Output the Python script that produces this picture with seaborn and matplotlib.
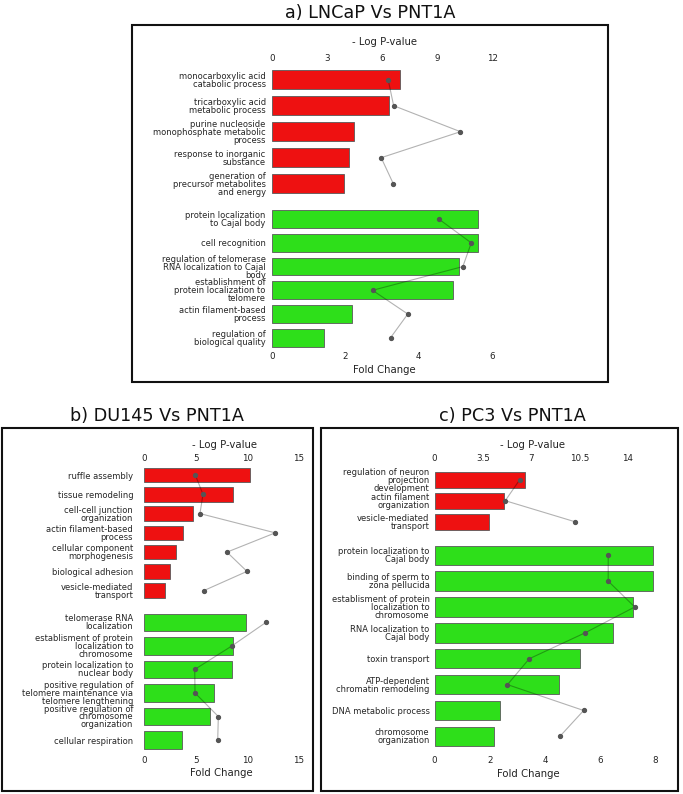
import numpy as np
import matplotlib
matplotlib.use("Agg")
import matplotlib.pyplot as plt
from matplotlib.patches import Rectangle
import seaborn as sns

# ---------------- data ----------------
a_up_terms = ["monocarboxylic acid\ncatabolic process",
              "tricarboxylic acid\nmetabolic process",
              "purine nucleoside\nmonophosphate metabolic\nprocess",
              "response to inorganic\nsubstance",
              "generation of\nprecursor metabolites\nand energy"]
a_up_fc = [3.48, 3.19, 2.23, 2.11, 1.95]
a_up_logp = [6.33, 6.63, 10.27, 5.95, 6.61]

a_dn_terms = ["protein localization\nto Cajal body",
              "cell recognition",
              "regulation of telomerase\nRNA localization to Cajal\nbody",
              "establishment of\nprotein localization to\ntelomere",
              "actin filament-based\nprocess",
              "regulation of\nbiological quality"]
a_dn_fc = [5.61, 5.61, 5.10, 4.92, 2.18, 1.42]
a_dn_logp = [9.1, 10.86, 10.4, 5.48, 7.4, 6.46]

b_up_terms = ["ruffle assembly", "tissue remodeling",
              "cell-cell junction\norganization",
              "actin filament-based\nprocess",
              "cellular component\nmorphogenesis",
              "biological adhesion",
              "vesicle-mediated\ntransport"]
b_up_fc = [10.3, 8.57, 4.69, 3.75, 3.07, 2.52, 1.97]
b_up_logp = [4.95, 5.69, 5.4, 12.7, 8.02, 9.96, 5.76]

b_dn_terms = ["telomerase RNA\nlocalization",
              "establisment of protein\nlocalization to\nchromosome",
              "protein localization to\nnuclear body",
              "positive regulation of\ntelomere maintenance via\ntelomere lengthening",
              "positive regulation of\nchromosome\norganization",
              "cellular respiration"]
b_dn_fc = [9.9, 8.63, 8.5, 6.79, 6.37, 3.62]
b_dn_logp = [11.8, 8.5, 4.89, 4.92, 7.18, 7.12]

c_up_terms = ["regulation of neuron\nprojection\ndevelopment",
              "actin filament\norganization",
              "vesicle-mediated\ntransport"]
c_up_fc = [3.27, 2.51, 1.98]
c_up_logp = [6.17, 5.12, 10.16]

c_dn_terms = ["protein localization to\nCajal body",
              "binding of sperm to\nzona pellucida",
              "establisment of protein\nlocalization to\nchromosome",
              "RNA localization to\nCajal body",
              "toxin transport",
              "ATP-dependent\nchromatin remodeling",
              "DNA metabolic process",
              "chromosome\norganization"]
c_dn_fc = [7.93, 7.93, 7.2, 6.47, 5.27, 4.51, 2.37, 2.17]
c_dn_logp = [12.58, 12.58, 14.5, 10.9, 6.86, 5.28, 10.8, 9.08]

titles = ["a) LNCaP Vs PNT1A", "b) DU145 Vs PNT1A", "c) PC3 Vs PNT1A"]
a_logp_ticks = [0, 3, 6, 9, 12]
a_fc_ticks = [0, 2, 4, 6]
b_logp_ticks = [0, 5, 10, 15]
b_fc_ticks = [0, 5, 10, 15]
c_logp_ticks = [0, 3.5, 7, 10.5, 14]
c_logp_labels = ["0", "3.5", "7", "10.5", "14"]
c_fc_ticks = [0, 2, 4, 6, 8]

# ---------------- style ----------------
sns.set_style("white")
plt.rcParams['font.family'] = ['DejaVu Sans']

W, H = 683, 794
fig = plt.figure(figsize=(W / 100, H / 100), dpi=100)

RED = "#EE1111"
GREEN = "#2EDF1A"
EDGE = "0.35"
TICK_FS = 6.3
CAT_FS = 6.0
LAB_FS = 7.3


def add_ax(x0, x1, yt, yb):
    return fig.add_axes([x0 / W, 1 - yb / H, (x1 - x0) / W, (yb - yt) / H])


def pad_pt(dist_px, fs_pt):
    return max(0.0, (dist_px - fs_pt * 100 / 72 / 2) * 72 / 100)


def panel_part(x0, x1, yt, yb, terms, fc, logp, color, fcmax, ratio,
               cat_pad, top=None, bottom=None):
    ax = add_ax(x0, x1, yt, yb)
    sns.barplot(x=fc, y=terms, orient="h", color=color, saturation=1,
                width=0.75, edgecolor=EDGE, linewidth=0.6, ax=ax)
    ax.set_xlim(0, fcmax)
    ax2 = ax.twiny()
    ax2.set_xlim(0, fcmax * ratio)
    idx = np.arange(len(terms))
    ax2.plot(logp, idx, color="k", alpha=0.3, lw=0.8, zorder=3)
    ax2.plot(logp, idx, "o", color="#555555", ms=2.8, zorder=4)
    ax.set_ylim(len(terms) - 0.5, -0.5)
    for a in (ax, ax2):
        for s in a.spines.values():
            s.set_visible(False)
    ax.set_ylabel("")
    ax.tick_params(axis="y", length=0, pad=cat_pad, labelsize=CAT_FS)
    for lbl in ax.get_yticklabels():
        lbl.set_linespacing(0.85)
    h = yb - yt
    w = x1 - x0
    if top is not None:
        ticks, tlabels, dist, lab_d, lab_cx = top
        ax2.set_xticks(ticks)
        ax2.set_xticklabels(tlabels)
        ax2.tick_params(axis="x", length=0, labelsize=TICK_FS,
                        pad=pad_pt(dist, TICK_FS), colors="#222222")
        ax2.set_xlabel("- Log P-value", fontsize=LAB_FS, color="#222222")
        ax2.xaxis.set_label_coords((lab_cx - x0) / w, 1 + lab_d / h)
        ax2.xaxis.label.set_va("center")
    else:
        ax2.set_xticks([])
    if bottom is not None:
        ticks, dist, lab_d, lab_cx = bottom
        ax.set_xticks(ticks)
        ax.set_xticklabels([str(t) for t in ticks])
        ax.tick_params(axis="x", length=0, labelsize=TICK_FS,
                       pad=pad_pt(dist, TICK_FS), colors="#222222")
        ax.set_xlabel("Fold Change", fontsize=LAB_FS, color="#222222")
        ax.xaxis.set_label_coords((lab_cx - x0) / w, -lab_d / h)
        ax.xaxis.label.set_va("center")
    else:
        ax.set_xticks([])
        ax.set_xlabel("")
    return ax, ax2


# ---- panel a ----
ax0 = 272.0
a_unit = 36.7
a_max = 6.15
ax1 = ax0 + a_max * a_unit
panel_part(ax0, ax1, 66.7, 196.7, a_up_terms, a_up_fc, a_up_logp, RED,
           a_max, 2.0, 4.5,
           top=(a_logp_ticks, [str(t) for t in a_logp_ticks], 7.7, 24.7, 385))
panel_part(ax0, ax1, 207.3, 349.6, a_dn_terms, a_dn_fc, a_dn_logp, GREEN,
           a_max, 2.0, 4.5,
           bottom=(a_fc_ticks, 7.0, 20.4, 384))

# ---- panel b ----
bx0 = 144.3
b_unit = 10.31
b_max = 15.3
bx1 = bx0 + b_max * b_unit
panel_part(bx0, bx1, 465.4, 600.3, b_up_terms, b_up_fc, b_up_logp, RED,
           b_max, 1.0, 8.0,
           top=(b_logp_ticks, [str(t) for t in b_logp_ticks], 6.7, 20.4, 224))
panel_part(bx0, bx1, 610.6, 751.8, b_dn_terms, b_dn_fc, b_dn_logp, GREEN,
           b_max, 1.0, 8.0,
           bottom=(b_fc_ticks, 9.0, 21.5, 221.3))

# ---- panel c ----
cx0 = 434.6
c_unit = 27.6
c_max = 8.4
cx1 = cx0 + c_max * c_unit
panel_part(cx0, cx1, 469.2, 532.2, c_up_terms, c_up_fc, c_up_logp, RED,
           c_max, 2.0, 3.6,
           top=(c_logp_ticks, c_logp_labels, 10.5, 24.0, 532))
panel_part(cx0, cx1, 542.3, 749.3, c_dn_terms, c_dn_fc, c_dn_logp, GREEN,
           c_max, 2.0, 3.6,
           bottom=(c_fc_ticks, 10.7, 24.4, 528.3))

# ---- frames and titles ----
boxes = [(132, 608, 25, 382), (2, 313, 428, 791), (321, 678, 428, 791)]
for (x0, x1, yt, yb) in boxes:
    fig.patches.append(Rectangle((x0 / W, 1 - yb / H), (x1 - x0) / W,
                                 (yb - yt) / H, transform=fig.transFigure,
                                 fill=False, edgecolor="#111111", lw=1.5))
title_pos = [(370, 12.5), (157, 416), (512, 416)]
for t, (tx, ty) in zip(titles, title_pos):
    fig.text(tx / W, 1 - ty / H, t, ha="center", va="center", fontsize=12.7,
             color="#111111")

fig.savefig("out.png", dpi=100)
